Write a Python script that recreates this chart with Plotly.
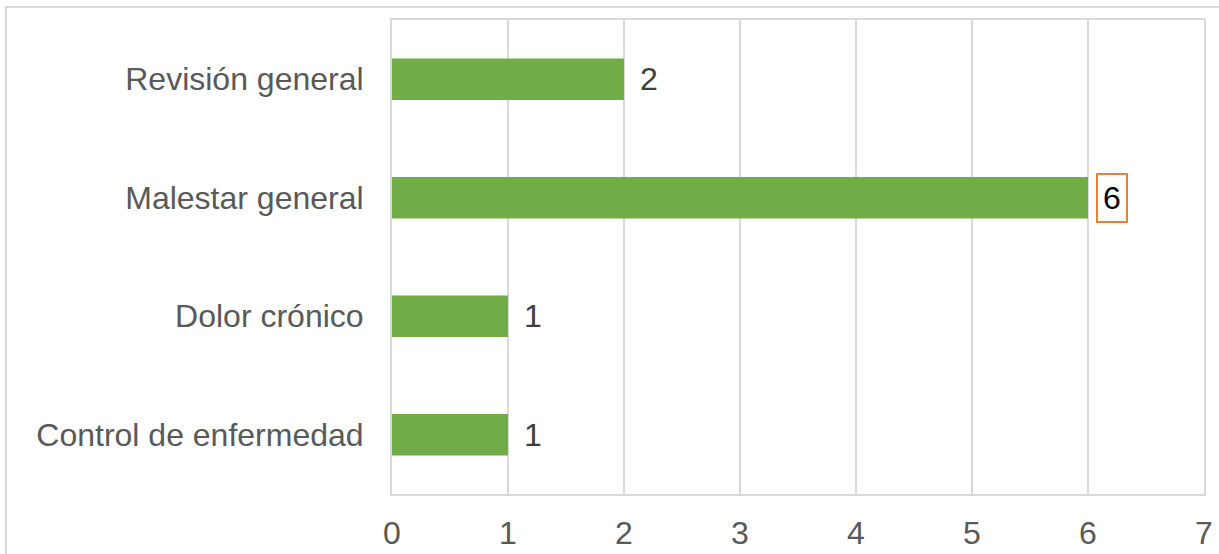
import plotly.graph_objects as go

categories = ["Control de enfermedad", "Dolor crónico", "Malestar general", "Revisión general"]
values = [1, 1, 6, 2]
highlight = "Malestar general"
x_ticks = [0, 1, 2, 3, 4, 5, 6, 7]

GREEN = "#70AD47"
GRID = "#D9D9D9"
FONT = "Arial, Liberation Sans, sans-serif"
FS = 32

fig = go.Figure(go.Bar(
    x=values, y=categories, orientation="h",
    marker=dict(color=GREEN, line=dict(width=0)),
    width=0.35, hoverinfo="skip",
))

for c, v in zip(categories, values):
    hl = c == highlight
    fig.add_annotation(
        x=v, y=c, xref="x", yref="y", text=str(v), showarrow=False,
        xanchor="left", yanchor="middle",
        xshift=8 if hl else 16,
        font=dict(family=FONT, size=FS, color="#000000" if hl else "#404040"),
        bordercolor="#ED7D31" if hl else "rgba(0,0,0,0)",
        borderwidth=2 if hl else 0, borderpad=5 if hl else 0,
        bgcolor="#FFFFFF" if hl else "rgba(0,0,0,0)",
    )

# outer chart border
fig.add_shape(type="rect", xref="paper", yref="paper",
              x0=(6 - 392) / 812, x1=1.05, y0=-0.3, y1=(494 - 7) / 474,
              line=dict(color=GRID, width=2), fillcolor="rgba(0,0,0,0)", layer="below")

fig.update_layout(
    width=1219, height=554,
    margin=dict(l=392, r=15, t=20, b=60),
    paper_bgcolor="white", plot_bgcolor="white",
    showlegend=False,
    font=dict(family=FONT, size=FS, color="#595959"),
    xaxis=dict(range=[0, 7], tickvals=x_ticks, showgrid=True, gridcolor=GRID, gridwidth=2,
               zeroline=False, showline=True, linecolor=GRID, linewidth=2, mirror=True,
               automargin=False,
               ticks="", ticklabelstandoff=10, tickfont=dict(size=FS, color="#595959")),
    yaxis=dict(categoryorder="array", categoryarray=categories, showgrid=False,
               zeroline=False, showline=True, linecolor=GRID, linewidth=2, mirror=True,
               automargin=False,
               ticks="", ticklabelstandoff=20, tickfont=dict(size=FS, color="#595959")),
)

fig.write_html("out.html")
